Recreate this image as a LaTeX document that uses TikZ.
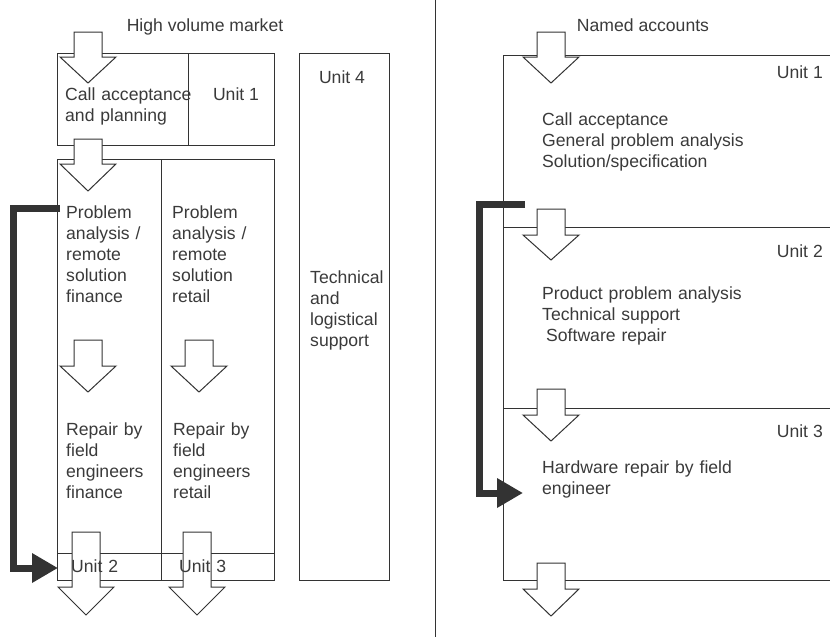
\documentclass[tikz,border=0pt]{standalone}
\usepackage{fontspec}
\setmainfont{Liberation Sans}
\usepackage{xcolor}
\usetikzlibrary{arrows.meta}
\definecolor{linegray}{HTML}{333333}
\definecolor{textgray}{HTML}{3A3A3A}
\newcommand{\lbfont}{\fontsize{17.6}{21}\selectfont}
\newcommand{\hollowarrow}[4]{%
    \draw[boxline,fill=white](#1-14,#2)--(#1+14,#2)--(#1+14,#3)--(#1+28,#3)--(#1,#4)--(#1-28,#3)--(#1-14,#3)--cycle;}

\begin{document}
\begin{tikzpicture}[x=1pt,y=-1pt,
        boxline/.style={draw=linegray,line width=1pt},
        txt/.style={anchor=base west,inner sep=0pt,text width=260pt,align=left,font=\lbfont,text=textgray},
        ttl/.style={anchor=base,inner sep=0pt,font=\lbfont,text=textgray},
        unitr/.style={anchor=base east,inner sep=0pt,font=\lbfont,text=textgray},
        feedback/.style={draw=linegray,line width=7pt,line join=miter,-{Triangle[length=26pt,width=28pt]}}]
            \useasboundingbox (0,0) rectangle (830,637);
            \draw[boxline](57,53)rectangle(274,145);
            \draw[boxline](188,53)--(188,145);
            \draw[boxline](57,159)rectangle(274,580);
            \draw[boxline](161,159)--(161,580);
            \draw[boxline](57,553)--(274,553);
            \draw[boxline](299,53)rectangle(389,580);
            \draw[boxline](435,0)--(435,637);
            \draw[boxline](830,55)--(503,55)--(503,580)--(830,580);
            \foreach \y in {227,408}{
                    \draw[boxline](503,\y)--(830,\y);}
            \foreach \x/\a/\b/\c in {88/32/57/83,88/139/164/191,88/340/366/392,199/340/366/392,86/532/587/615,197/532/587/615,551/32/57/83,551/209/235/260,551/389/415/441,551/563/589/616}{
                    \hollowarrow{\x}{\a}{\b}{\c}}
            \node[ttl] (hvm) at (205,31) {High volume market};
            \node[txt] (cap) at (65,100) {Call acceptance\\and planning};
            \node[ttl] (u1l) at (236,100) {Unit 1};
            \node[txt] (paf) at (66,218) {Problem\\analysis /\\remote\\solution\\finance};
            \node[txt] (par) at (172,218) {Problem\\analysis /\\remote\\solution\\retail};
            \node[txt] (rff) at (66,435) {Repair by\\field\\engineers\\finance};
            \node[txt] (rfr) at (173,435) {Repair by\\field\\engineers\\retail};
            \node[txt] (u2l) at (71,572) {Unit 2};
            \node[txt] (u3l) at (179,572) {Unit 3};
            \node[ttl] (u4) at (342,83) {Unit 4};
            \node[txt] (tls) at (310,283) {Technical\\and\\logistical\\support};
            \node[ttl] (na) at (643,31) {Named accounts};
            \node[unitr] (u1r) at (823,78) {Unit 1};
            \node[txt] (gpa) at (542,125) {Call acceptance\\General problem analysis\\Solution/specification};
            \node[unitr] (u2r) at (823,257) {Unit 2};
            \node[txt] (ppa) at (542,299) {Product problem analysis\\Technical support\\\hspace*{4pt}Software repair};
            \node[unitr] (u3r) at (823,437) {Unit 3};
            \node[txt] (hwr) at (542,473) {Hardware repair by field\\engineer};
            \coordinate (lfb-a) at (60,208);
            \coordinate (lfb-b) at (58,568);
            \draw[feedback](lfb-a)--++(-46.5,0)|-(lfb-b);
            \coordinate (rfb-a) at (525,204);
            \coordinate (rfb-b) at (523,493);
            \draw[feedback](rfb-a)--++(-46,0)|-(rfb-b);
            % \node at (0,650){};
        \end{tikzpicture}
\end{document}
